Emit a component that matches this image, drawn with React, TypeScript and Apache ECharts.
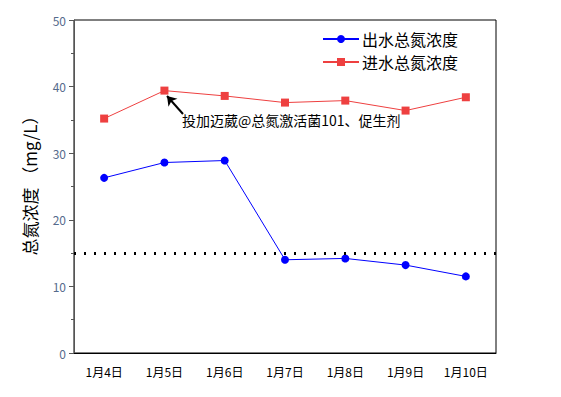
import React, { useEffect, useRef } from "react";
import * as echarts from "echarts";

const categories = ["1月4日", "1月5日", "1月6日", "1月7日", "1月8日", "1月9日", "1月10日"];
const effluentTN = [26.3, 28.6, 28.9, 14.0, 14.2, 13.2, 11.5];
const influentTN = [35.2, 39.4, 38.6, 37.6, 37.9, 36.4, 38.4];
const limitValue = 15;
const yTicks = { min: 0, max: 50, interval: 10 };
const annotationText = "投加迈葳@总氮激活菌101、促生剂";

const FONT = "'Noto Sans CJK SC', 'DejaVu Sans', sans-serif";

export default function App() {
  const ref = useRef<HTMLDivElement>(null);
  useEffect(() => {
    if (!ref.current) return;
    const chart = echarts.init(ref.current, undefined, { renderer: "svg" });
    chart.setOption({
      animation: false,
      backgroundColor: "#ffffff",
      textStyle: { fontFamily: FONT },
      grid: {
        left: 74,
        top: 20,
        right: 65,
        bottom: 44,
        show: true,
        borderColor: "#000",
        borderWidth: 1,
        backgroundColor: "transparent",
      },
      legend: {
        orient: "vertical",
        left: 317,
        top: 26,
        itemWidth: 36,
        itemHeight: 10,
        itemGap: 7,
        textStyle: { fontSize: 16, color: "#000", fontFamily: FONT, padding: [0, 0, 0, -2] },
        data: ["出水总氮浓度", "进水总氮浓度"],
      },
      xAxis: {
        type: "category",
        data: categories,
        boundaryGap: true,
        axisLine: { lineStyle: { color: "#000", width: 1 } },
        axisTick: { alignWithLabel: true, length: 5, lineStyle: { color: "#000" } },
        axisLabel: { fontSize: 12, color: "#000", margin: 12, fontFamily: FONT },
        splitLine: { show: false },
      },
      yAxis: {
        type: "value",
        min: yTicks.min,
        max: yTicks.max,
        interval: yTicks.interval,
        name: "总氮浓度 （mg/L）",
        nameLocation: "middle",
        nameGap: 36,
        nameTextStyle: { fontSize: 17, color: "#000", fontFamily: FONT, padding: [0, 0, 0, 10] },
        axisLine: { show: true, lineStyle: { color: "#555", width: 1 } },
        axisTick: { show: true, length: 5, lineStyle: { color: "#555" } },
        minorTick: { show: true, splitNumber: 2, length: 3, lineStyle: { color: "#555" } },
        axisLabel: { fontSize: 12, color: "#556a8c", margin: 8, fontFamily: FONT },
        splitLine: { show: false },
      },
      series: [
        {
          name: "出水总氮浓度",
          type: "line",
          data: effluentTN,
          symbol: "circle",
          symbolSize: 8,
          color: "#0000ff",
          lineStyle: { width: 1, color: "#0000ff" },
          itemStyle: { color: "#0000ff" },
          markLine: {
            silent: true,
            symbol: ["none", "none"],
            label: { show: false },
            lineStyle: { color: "#000", type: [2, 8], width: 3 },
            data: [{ yAxis: limitValue }],
          },
        },
        {
          name: "进水总氮浓度",
          type: "line",
          data: influentTN,
          symbol: "rect",
          symbolSize: 8,
          color: "#ee4040",
          lineStyle: { width: 1, color: "#ee4040" },
          itemStyle: { color: "#ee4040" },
          markLine: {
            silent: true,
            symbol: ["none", "arrow"],
            symbolSize: 9,
            label: { show: false },
            lineStyle: { color: "#000", type: "solid", width: 2 },
            data: [[{ x: 183, y: 114 }, { x: 167, y: 96 }]],
          },
        },
      ],
      graphic: [
        {
          type: "text",
          left: 182,
          top: 113,
          style: { text: annotationText, fill: "#000", font: "14px " + FONT },
        },
      ],
    });
    return () => chart.dispose();
  }, []);
  return <div ref={ref} style={{ width: 561, height: 397, margin: -8 }} />;
}
